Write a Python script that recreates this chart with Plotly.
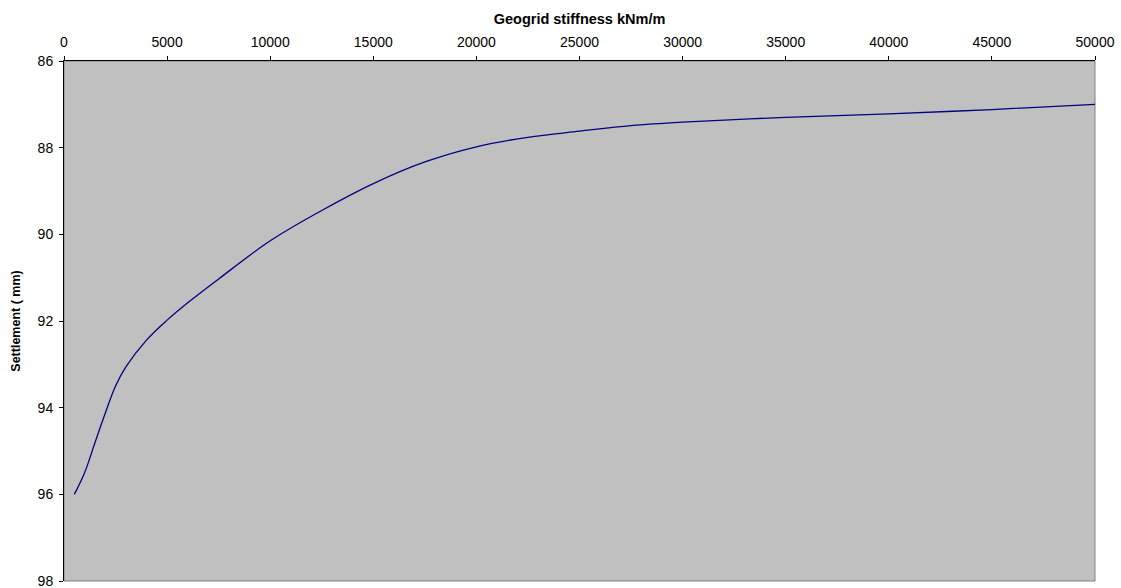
import plotly.graph_objects as go

# Geogrid stiffness (kNm/m) vs settlement (mm)
stiffness = [500, 1000, 1500, 2000, 2500, 3000, 4000, 5000, 6000, 7500,
             10000, 12500, 15000, 17500, 20000, 22500, 25000, 27500, 30000, 35000,
             40000, 45000, 50000]
settlement = [96.0, 95.5, 94.81, 94.13, 93.5, 93.06, 92.44, 91.98, 91.58, 91.03,
              90.15, 89.45, 88.83, 88.33, 87.98, 87.76, 87.62, 87.49, 87.41, 87.3,
              87.22, 87.12, 87.0]

x_ticks = [0, 5000, 10000, 15000, 20000, 25000, 30000, 35000, 40000, 45000, 50000]
y_ticks = [86, 88, 90, 92, 94, 96, 98]

font_family = "Liberation Sans, Arial, sans-serif"

fig = go.Figure()
fig.add_trace(go.Scatter(
    x=stiffness, y=settlement, mode="lines",
    line=dict(color="#000080", width=1.3, shape="spline", smoothing=1.0),
    hoverinfo="skip", showlegend=False,
))

# grey border around the plot area
fig.add_shape(type="rect", xref="paper", yref="paper", x0=0, x1=1, y0=0, y1=1,
              line=dict(color="#808080", width=1), fillcolor="rgba(0,0,0,0)", layer="below")

fig.update_layout(
    width=1121, height=588,
    margin=dict(l=64, r=26, t=61, b=7, autoexpand=False),
    paper_bgcolor="white", plot_bgcolor="#C0C0C0",
    font=dict(family=font_family, size=14, color="black"),
    xaxis=dict(
        side="top", range=[0, 50000], tickvals=x_ticks,
        ticktext=[str(v) for v in x_ticks],
        showgrid=False, zeroline=False, automargin=False,
        showline=True, linecolor="black", linewidth=1,
        ticks="outside", ticklen=4, tickcolor="black",
        ticklabelstandoff=3, ticklabeloverflow="allow",
        title=dict(text="<b>Geogrid stiffness kNm/m</b>", font=dict(size=14.5), standoff=6),
    ),
    yaxis=dict(
        range=[98, 86], tickvals=y_ticks,
        ticktext=[str(v) for v in y_ticks],
        showgrid=False, zeroline=False, automargin=False,
        showline=True, linecolor="black", linewidth=1,
        ticks="outside", ticklen=4, tickcolor="black",
        ticklabelstandoff=3, ticklabeloverflow="allow",
        title=dict(text="<b>Settlement ( mm)</b>", font=dict(size=12.5), standoff=14),
    ),
)

fig.write_html("out.html")
